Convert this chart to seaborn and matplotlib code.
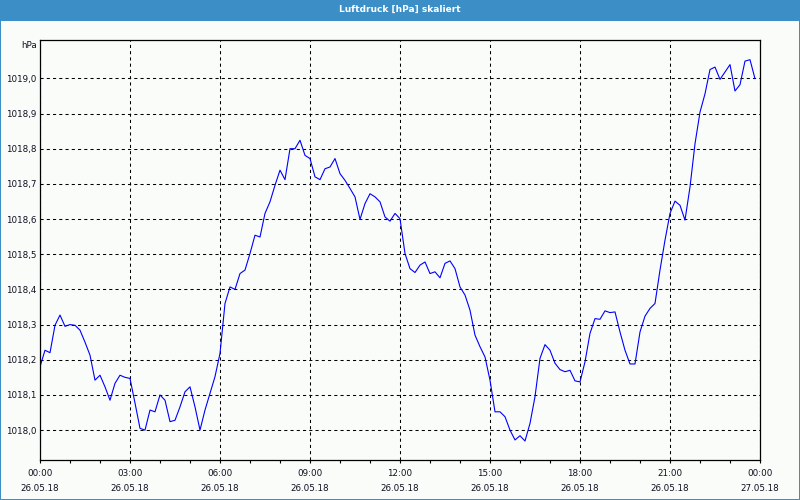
import numpy as np
import pandas as pd
import matplotlib
matplotlib.use("Agg")
import matplotlib.pyplot as plt
import seaborn as sns
from matplotlib.ticker import MultipleLocator, FixedLocator
from matplotlib.patches import Rectangle

# ---- data -------------------------------------------------------------
title = "Luftdruck [hPa] skaliert"
unit_label = "hPa"
# sample times in minutes since 26.05.18 00:00 (every 10 minutes)
sample_minutes = list(range(0, 1440, 10))
pressure = [
    1018.180, 1018.227, 1018.220, 1018.298, 1018.327, 1018.295, 1018.300, 1018.298,
    1018.284, 1018.250, 1018.213, 1018.142, 1018.156, 1018.123, 1018.085, 1018.133,
    1018.156, 1018.150, 1018.147, 1018.077, 1018.005, 1018.000, 1018.057, 1018.052,
    1018.100, 1018.085, 1018.024, 1018.028, 1018.066, 1018.109, 1018.123, 1018.066,
    1018.000, 1018.057, 1018.104, 1018.152, 1018.218, 1018.360, 1018.407, 1018.400,
    1018.445, 1018.455, 1018.502, 1018.554, 1018.549, 1018.616, 1018.649, 1018.696,
    1018.739, 1018.712, 1018.800, 1018.800, 1018.824, 1018.781, 1018.772, 1018.720,
    1018.712, 1018.743, 1018.748, 1018.772, 1018.729, 1018.710, 1018.687, 1018.663,
    1018.599, 1018.644, 1018.672, 1018.663, 1018.649, 1018.606, 1018.594, 1018.616,
    1018.601, 1018.502, 1018.459, 1018.448, 1018.469, 1018.478, 1018.445, 1018.450,
    1018.433, 1018.474, 1018.481, 1018.459, 1018.407, 1018.384, 1018.341, 1018.270,
    1018.237, 1018.208, 1018.142, 1018.052, 1018.052, 1018.038, 1018.000, 1017.972,
    1017.984, 1017.969, 1018.019, 1018.095, 1018.204, 1018.243, 1018.227, 1018.190,
    1018.172, 1018.166, 1018.170, 1018.140, 1018.137, 1018.194, 1018.275, 1018.317,
    1018.315, 1018.339, 1018.334, 1018.336, 1018.279, 1018.227, 1018.188, 1018.188,
    1018.279, 1018.324, 1018.346, 1018.360, 1018.455, 1018.540, 1018.616, 1018.651,
    1018.639, 1018.597, 1018.691, 1018.814, 1018.904, 1018.956, 1019.025, 1019.032,
    1018.997, 1019.018, 1019.039, 1018.964, 1018.982, 1019.049, 1019.053, 1018.999,
]
x_tick_hours = [0, 3, 6, 9, 12, 15, 18, 21, 24]
x_tick_labels = [
    "00:00\n26.05.18", "03:00\n26.05.18", "06:00\n26.05.18", "09:00\n26.05.18",
    "12:00\n26.05.18", "15:00\n26.05.18", "18:00\n26.05.18", "21:00\n26.05.18",
    "00:00\n27.05.18",
]
y_tick_values = [1018.0, 1018.1, 1018.2, 1018.3, 1018.4, 1018.5,
                 1018.6, 1018.7, 1018.8, 1018.9, 1019.0]
y_tick_labels = ["1018,0", "1018,1", "1018,2", "1018,3", "1018,4", "1018,5",
                 "1018,6", "1018,7", "1018,8", "1018,9", "1019,0"]

df = pd.DataFrame({"hour": [m / 60 for m in sample_minutes], "pressure": pressure})

# ---- style ------------------------------------------------------------
sns.set_style("white")
plt.rcParams["font.family"] = ["DejaVu Sans"]
bg = "#fafcfa"
frame_blue = "#3b8fc6"
txt = "#101020"

fig = plt.figure(figsize=(8, 5), dpi=100, facecolor=bg)
ax = fig.add_axes([40 / 800, 40 / 500, 720 / 800, 420 / 500])
ax.set_facecolor(bg)

sns.lineplot(data=df, x="hour", y="pressure", ax=ax, color="#0000ff",
             linewidth=0.8, legend=False)

ax.set_xlim(0, 24)
ax.set_ylim(1017.915, 1019.109)

ax.xaxis.set_major_locator(FixedLocator(x_tick_hours))
ax.xaxis.set_minor_locator(MultipleLocator(1))
ax.set_xticklabels(x_tick_labels, fontsize=6.3, color=txt, linespacing=1.9)
ax.yaxis.set_major_locator(FixedLocator(y_tick_values))
ax.set_yticklabels(y_tick_labels, fontsize=6.3, color=txt)

ax.tick_params(axis="x", which="both", direction="out", length=2.2,
               width=0.8, color="black", pad=4, bottom=True)
ax.tick_params(axis="y", which="both", length=0, pad=2.5, left=False)

ax.grid(True, which="major", color="black", linestyle=(0, (3, 3)), linewidth=0.75)
ax.set_axisbelow(True)
for s in ax.spines.values():
    s.set_visible(True)
    s.set_color("black")
    s.set_linewidth(0.9)

ax.set_xlabel("")
ax.set_ylabel("")

fig.text(37 / 800, 1 - 45 / 500, unit_label, ha="right", va="center",
         fontsize=6.3, color=txt)

# title bar and window border
fig.patches.append(Rectangle((0, 1 - 20.5 / 500), 1, 20.5 / 500,
                             transform=fig.transFigure, facecolor=frame_blue,
                             edgecolor="none", zorder=0))
for (x0, y0, w, h) in [(0, 0, 1.2 / 800, 1), (1 - 1.2 / 800, 0, 1.2 / 800, 1),
                       (0, 0, 1, 1.2 / 500)]:
    fig.patches.append(Rectangle((x0, y0), w, h, transform=fig.transFigure,
                                 facecolor=frame_blue, edgecolor="none", zorder=0))
fig.text(0.5, 1 - 9.5 / 500, title, ha="center", va="center", fontsize=6.5,
         color="white", fontweight="bold")

fig.savefig("out.png", dpi=100, facecolor=bg)
